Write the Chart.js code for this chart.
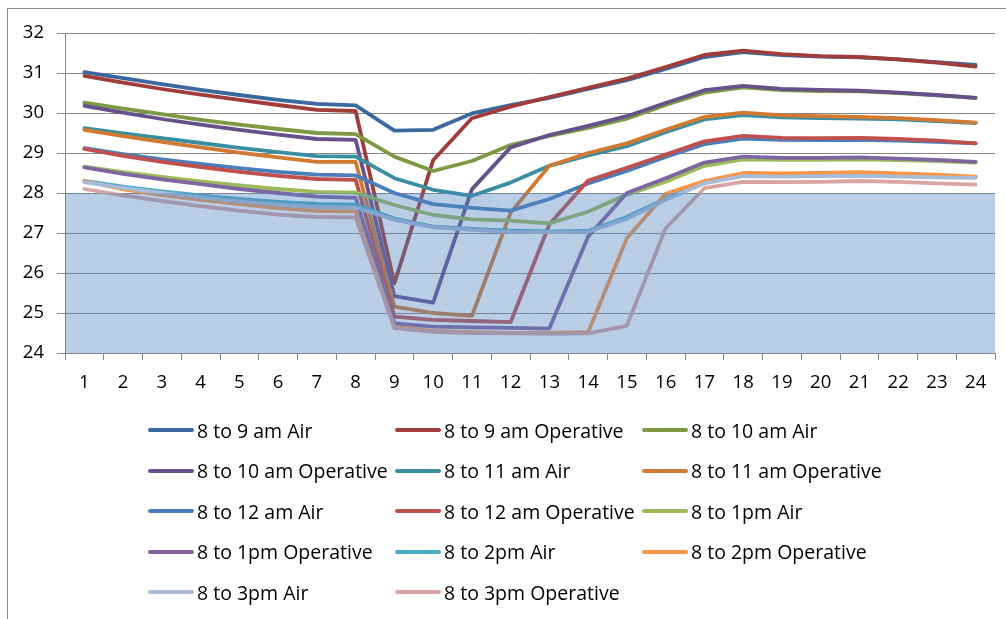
<!DOCTYPE html>
<html>
<head>
<meta charset="utf-8">
<script src="https://cdn.jsdelivr.net/npm/chart.js@4.4.0/dist/chart.umd.min.js"></script>
<style>
  html, body { margin: 0; padding: 0; background: #fff; overflow: hidden; }
  #wrap { position: relative; width: 1006px; height: 619px; }
  #frame { position: absolute; left: 7px; top: 8px; width: 1100px; height: 700px; border: 1px solid #8c8c8c; box-sizing: border-box; }
  #chart { position: absolute; left: 0; top: 0; }
  #legend { position: absolute; left: 0; top: 0; font-family: "Open Sans", sans-serif; font-size: 19.5px; color: #000; }
  .item { position: absolute; display: flex; align-items: center; white-space: nowrap; height: 26px; }
  .swatch { width: 46px; height: 4px; border-radius: 2px; margin-right: 3px; }
</style>
</head>
<body>
<div id="wrap">
  <div id="frame"></div>
  <canvas id="chart" width="1006" height="619"></canvas>
  <div id="legend"></div>
</div>
<script>
// --- Data ---
const hours = ['1','2','3','4','5','6','7','8','9','10','11','12','13','14','15','16','17','18','19','20','21','22','23','24'];
const yTicks = [24, 25, 26, 27, 28, 29, 30, 31, 32];
const comfortLimit = 28;

const labels = [
    '8 to 9 am Air', '8 to 9 am Operative', '8 to 10 am Air',
    '8 to 10 am Operative', '8 to 11 am Air', '8 to 11 am Operative',
    '8 to 12 am Air', '8 to 12 am Operative', '8 to 1pm Air',
    '8 to 1pm Operative', '8 to 2pm Air', '8 to 2pm Operative',
    '8 to 3pm Air', '8 to 3pm Operative'
];

const air9  = [31.02, 30.87, 30.72, 30.58, 30.45, 30.33, 30.23, 30.19, 29.56, 29.58, 29.99, 30.2, 30.38, 30.6, 30.82, 31.1, 31.4, 31.52, 31.45, 31.41, 31.39, 31.34, 31.27, 31.2];
const op9   = [30.93, 30.76, 30.6, 30.46, 30.33, 30.2, 30.08, 30.05, 25.74, 28.82, 29.87, 30.16, 30.4, 30.63, 30.86, 31.15, 31.45, 31.56, 31.47, 31.42, 31.4, 31.34, 31.26, 31.16];
const air10 = [30.26, 30.11, 29.97, 29.83, 29.71, 29.6, 29.5, 29.47, 28.91, 28.55, 28.8, 29.2, 29.43, 29.63, 29.86, 30.2, 30.51, 30.64, 30.57, 30.55, 30.54, 30.5, 30.44, 30.38];
const op10  = [30.18, 30.01, 29.85, 29.71, 29.58, 29.46, 29.35, 29.33, 25.42, 25.26, 28.09, 29.14, 29.45, 29.68, 29.92, 30.25, 30.57, 30.68, 30.6, 30.58, 30.56, 30.51, 30.45, 30.38];
const air11 = [29.62, 29.49, 29.37, 29.25, 29.13, 29.02, 28.92, 28.91, 28.37, 28.08, 27.93, 28.26, 28.68, 28.94, 29.17, 29.52, 29.84, 29.95, 29.89, 29.87, 29.86, 29.84, 29.8, 29.75];
const op11  = [29.58, 29.42, 29.28, 29.14, 29.01, 28.89, 28.78, 28.78, 25.16, 25.0, 24.93, 27.51, 28.68, 29.0, 29.24, 29.58, 29.9, 30.01, 29.94, 29.92, 29.9, 29.87, 29.82, 29.76];
const air12 = [29.12, 28.97, 28.84, 28.73, 28.62, 28.53, 28.46, 28.44, 28.0, 27.72, 27.63, 27.56, 27.85, 28.24, 28.55, 28.9, 29.22, 29.36, 29.33, 29.32, 29.33, 29.31, 29.28, 29.24];
const op12  = [29.1, 28.93, 28.78, 28.65, 28.53, 28.43, 28.35, 28.33, 24.91, 24.83, 24.8, 24.77, 27.22, 28.31, 28.63, 28.96, 29.29, 29.43, 29.38, 29.37, 29.38, 29.35, 29.31, 29.24];
const air1  = [28.66, 28.52, 28.4, 28.29, 28.19, 28.1, 28.03, 28.01, 27.7, 27.45, 27.34, 27.31, 27.24, 27.53, 27.96, 28.28, 28.68, 28.84, 28.83, 28.83, 28.84, 28.82, 28.8, 28.76];
const op1   = [28.64, 28.48, 28.34, 28.22, 28.1, 28.0, 27.91, 27.88, 24.74, 24.66, 24.64, 24.63, 24.61, 26.91, 28.0, 28.37, 28.76, 28.91, 28.88, 28.88, 28.89, 28.86, 28.83, 28.78];
const air2  = [28.3, 28.16, 28.04, 27.94, 27.85, 27.78, 27.73, 27.71, 27.36, 27.16, 27.1, 27.06, 27.04, 27.05, 27.4, 27.86, 28.27, 28.45, 28.43, 28.44, 28.45, 28.43, 28.41, 28.4];
const op2   = [28.3, 28.09, 27.95, 27.83, 27.72, 27.62, 27.55, 27.54, 24.65, 24.55, 24.52, 24.5, 24.5, 24.52, 26.87, 27.98, 28.3, 28.5, 28.49, 28.5, 28.52, 28.49, 28.46, 28.41];
const air3  = [28.27, 28.13, 28.0, 27.89, 27.79, 27.71, 27.65, 27.64, 27.33, 27.14, 27.08, 27.03, 27.02, 27.03, 27.35, 27.83, 28.24, 28.42, 28.41, 28.42, 28.43, 28.41, 28.39, 28.38];
const op3   = [28.1, 27.94, 27.8, 27.67, 27.56, 27.46, 27.4, 27.39, 24.62, 24.53, 24.5, 24.49, 24.48, 24.49, 24.68, 27.12, 28.12, 28.28, 28.27, 28.28, 28.3, 28.28, 28.24, 28.21];

const series = [air9, op9, air10, op10, air11, op11, air12, op12, air1, op1, air2, op2, air3, op3];
const colors = ['#3c68a0', '#a03c3a', '#7b9a42', '#66518a', '#3a8ea2', '#d27a31',
                '#4a7ebb', '#c0504d', '#9bbb59', '#8064a2', '#4bacc6', '#f79646',
                '#a8bbd9', '#d9a4a2'];

// --- Band plugin: shaded area up to the comfort limit, drawn over the lines ---
const comfortBand = {
    id: 'comfortBand',
    afterDatasetsDraw(chart) {
        const { ctx, chartArea, scales } = chart;
        const top = scales.y.getPixelForValue(comfortLimit);
        const bottom = scales.y.getPixelForValue(scales.y.min);
        ctx.save();
        ctx.fillStyle = 'rgba(79,129,189,0.4)';
        ctx.fillRect(chartArea.left, top, chartArea.right - chartArea.left, bottom - top);
        ctx.restore();
    }
};

const gridColor = '#878787';
const tickFont = { family: 'Open Sans', size: 18.5 };

new Chart(document.getElementById('chart'), {
    type: 'line',
    data: {
        labels: hours,
        datasets: series.map((d, i) => ({
            label: labels[i],
            data: d,
            borderColor: colors[i],
            backgroundColor: colors[i],
            borderWidth: 3.8,
            pointRadius: 0,
            tension: 0,
            borderJoinStyle: 'round',
            borderCapStyle: 'round',
            order: series.length - i
        }))
    },
    options: {
        responsive: false,
        animation: false,
        layout: { padding: { left: 0, right: 11, top: 33, bottom: 226 } },
        plugins: { legend: { display: false }, tooltip: { enabled: false } },
        scales: {
            x: {
                offset: true,
                grid: { offset: true, drawOnChartArea: false, drawTicks: true, tickLength: 7, color: gridColor },
                border: { color: gridColor },
                ticks: { color: '#000', font: tickFont, padding: 12, maxRotation: 0, autoSkip: false },
                afterFit: (s) => { s.height = 40; }
            },
            y: {
                min: yTicks[0],
                max: yTicks[yTicks.length - 1],
                afterBuildTicks: (s) => { s.ticks = yTicks.map(v => ({ value: v })); },
                grid: { color: gridColor, tickLength: 8 },
                border: { color: gridColor },
                ticks: { color: '#000', font: tickFont, padding: 13 },
                afterFit: (s) => { s.width = 65; }
            }
        }
    },
    plugins: [comfortBand]
});

// --- Legend: 3 columns, rows top to bottom ---
const legend = document.getElementById('legend');
labels.forEach((name, i) => {
    const col = i % 3, row = Math.floor(i / 3);
    const item = document.createElement('div');
    item.className = 'item';
    item.style.left = (148 + col * 247) + 'px';
    item.style.top = (430 + row * 40.6 - 13) + 'px';
    item.innerHTML = '<span class="swatch" style="background:' + colors[i] + '"></span><span>' + name + '</span>';
    legend.appendChild(item);
});
</script>
</body>
</html>
